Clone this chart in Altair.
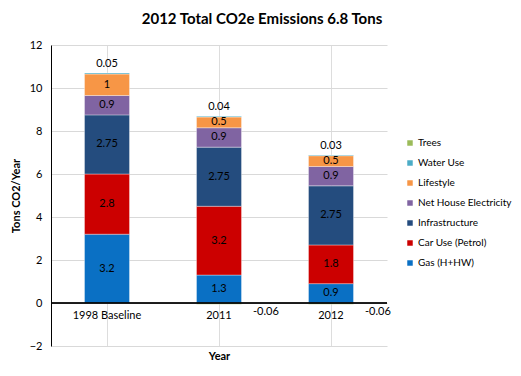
import altair as alt
import pandas as pd

categories = ["1998 Baseline", "2011", "2012"]
series = ["Gas (H+HW)", "Car Use (Petrol)", "Infrastructure", "Net House Electricity",
          "Lifestyle", "Water Use", "Trees"]
gas = [3.2, 1.3, 0.9]
car = [2.8, 3.2, 1.8]
infra = [2.75, 2.75, 2.75]
elec = [0.9, 0.9, 0.9]
life = [1, 0.5, 0.5]
water = [0.05, 0.04, 0.03]
trees = [None, -0.06, -0.06]
colors = ["#0A70C4", "#CC0000", "#244C7E", "#8064A2", "#F79646", "#4BACC6", "#9BBB59"]

rows = []
for si, (name, vals) in enumerate(zip(series, [gas, car, infra, elec, life, water, trees])):
    for c, v in zip(categories, vals):
        if v is None:
            continue
        rows.append({"cat": c, "series": name, "idx": si, "value": v, "label": f"{v:g}"})
df = pd.DataFrame(rows)
cat_df = pd.DataFrame({"cat": categories})

FONT = "Lato"

xenc = alt.X("cat:N", sort=categories,
             scale=alt.Scale(paddingInner=0, paddingOuter=0),
             axis=alt.Axis(labels=False, ticks=False, domain=False, title="Year",
                           titleFontSize=11, titleFont=FONT, titleFontWeight="bold",
                           titlePadding=4, titleColor="black"))
yscale = alt.Scale(domain=[-2, 12], nice=False, zero=False)

base = alt.Chart(df).transform_stack(
    stack="value", groupby=["cat"], as_=["y0", "y1"],
    sort=[alt.SortField("idx", order="ascending")]
).transform_calculate(mid="(datum.y0 + datum.y1) / 2")

bars = base.mark_bar(size=45, stroke="#ffffff", strokeOpacity=0.35, strokeWidth=1).encode(
    x=xenc,
    y=alt.Y("y0:Q", scale=yscale,
            axis=alt.Axis(values=list(range(-2, 13, 2)), ticks=False, domainColor="black",
                          gridColor="#d9d9d9", labelFont=FONT, labelFontSize=11,
                          labelPadding=9, labelColor="black",
                          title="Tons CO2/Year", titleFont=FONT, titleFontSize=11,
                          titleFontWeight="bold", titlePadding=8, titleColor="black")),
    y2="y1:Q",
    color=alt.Color("series:N",
                    scale=alt.Scale(domain=list(reversed(series)), range=list(reversed(colors))),
                    legend=alt.Legend(title=None, orient="none", legendX=354, legendY=93,
                                      symbolType="square", symbolSize=30, symbolStrokeWidth=0,
                                      labelFont=FONT, labelFontSize=10, labelColor="black",
                                      rowPadding=10, padding=0, labelOffset=3)),
    order=alt.Order("idx:Q"),
)

main_labels = base.transform_filter("datum.idx <= 4").mark_text(
    font=FONT, fontSize=11, color="black").encode(
    x=alt.X("cat:N", sort=categories), y=alt.Y("mid:Q"), text="label:N")

water_labels = base.transform_filter("datum.idx == 5").mark_text(
    font=FONT, fontSize=11, color="black", dy=-9).encode(
    x=alt.X("cat:N", sort=categories), y=alt.Y("y1:Q"), text="label:N")

tree_labels = base.transform_filter("datum.idx == 6").mark_text(
    font=FONT, fontSize=11, color="black", align="left", dx=34, dy=9).encode(
    x=alt.X("cat:N", sort=categories), y=alt.datum(0), text="label:N")

zero_rule = alt.Chart(cat_df).mark_rule(color="black", strokeWidth=1).encode(y=alt.datum(0))

cat_labels = alt.Chart(cat_df).mark_text(font=FONT, fontSize=11, color="black", dy=13).encode(
    x=alt.X("cat:N", sort=categories), y=alt.datum(0), text="cat:N")

chart = alt.layer(bars, zero_rule, main_labels, water_labels, tree_labels, cat_labels).properties(
    width=336, height=301,
    autosize=alt.AutoSizeParams(type="none"),
    padding={"left": 43, "top": 37, "right": 126, "bottom": 22},
    title=alt.Title("2012 Total CO2e Emissions 6.8 Tons", font=FONT, fontSize=15,
                    fontWeight="bold", color="black", anchor="middle", dx=43, offset=12),
).configure_view(stroke=None).configure_axis(grid=True)

chart.save("out.html", embed_options={"renderer": "svg", "actions": False})
